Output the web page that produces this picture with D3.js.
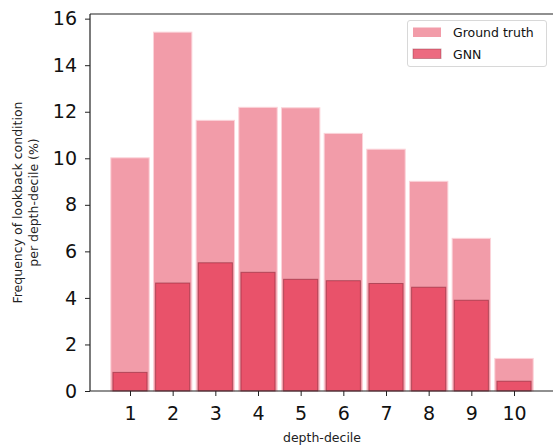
<!DOCTYPE html>
<html>
<head>
<meta charset="utf-8">
<script src="https://cdn.jsdelivr.net/npm/d3@7"></script>
<style>
  html, body { margin: 0; padding: 0; background: #fff; }
  svg { display: block; font-family: "DejaVu Sans", sans-serif; }
</style>
</head>
<body>
<svg id="chart" width="553" height="445"></svg>
<script>
const deciles = [1, 2, 3, 4, 5, 6, 7, 8, 9, 10];
const groundTruth = [10.02, 15.42, 11.63, 12.19, 12.17, 11.07, 10.39, 9.01, 6.56, 1.40];
const gnn = [0.80, 4.64, 5.51, 5.10, 4.80, 4.74, 4.62, 4.46, 3.90, 0.42];
const yTicks = [0, 2, 4, 6, 8, 10, 12, 14, 16];
const seriesNames = ["Ground truth", "GNN"];

(function () {
const svg = d3.select("#chart");
const mLeft = 90, mRight = 554, mTop = 14, mBottom = 391;

const x = d3.scaleLinear().domain([0.0625, 10.9375]).range([mLeft, mRight]);
const y = d3.scaleLinear().domain([0, 16.2]).range([mBottom, mTop]);
const step = x(2) - x(1);

const gtColor = "#f29ca9";
const gnnColor = "#e53955";

// Ground truth bars
svg.append("g").selectAll("rect").data(deciles).join("rect")
  .attr("x", (d) => x(d) - step * 0.45)
  .attr("width", step * 0.9)
  .attr("y", (d, i) => y(groundTruth[i]))
  .attr("height", (d, i) => y(0) - y(groundTruth[i]))
  .attr("fill", gtColor)
  .attr("stroke", "#fbd3d9")
  .attr("stroke-width", 1);

// GNN bars
svg.append("g").selectAll("rect").data(deciles).join("rect")
  .attr("x", (d) => x(d) - step * 0.4)
  .attr("width", step * 0.8)
  .attr("y", (d, i) => y(gnn[i]))
  .attr("height", (d, i) => y(0) - y(gnn[i]))
  .attr("fill", gnnColor)
  .attr("fill-opacity", 0.75)
  .attr("stroke", "#8a2a3a")
  .attr("stroke-opacity", 0.6)
  .attr("stroke-width", 1);

// Axes
const xAxis = d3.axisBottom(x).tickValues(deciles).tickSize(5).tickPadding(11).tickFormat(d3.format("d"));
const gx = svg.append("g").attr("transform", `translate(0,${mBottom})`).call(xAxis);
gx.select(".domain").remove();
gx.selectAll("text").attr("font-size", 19).attr("font-family", "DejaVu Sans").attr("fill", "#111");
gx.selectAll("line").attr("stroke", "#222");

const yAxis = d3.axisLeft(y).tickValues(yTicks).tickSize(5).tickPadding(8).tickFormat(d3.format("d"));
const gy = svg.append("g").attr("transform", `translate(${mLeft},0)`).call(yAxis);
gy.select(".domain").remove();
gy.selectAll("text").attr("font-size", 19).attr("font-family", "DejaVu Sans").attr("fill", "#111");
gy.selectAll("line").attr("stroke", "#222");

// Spines (right spine lies outside the visible area)
const spine = svg.append("g").attr("stroke", "#222").attr("stroke-width", 1.2).attr("fill", "none");
spine.append("line").attr("x1", mLeft).attr("x2", mLeft).attr("y1", mTop).attr("y2", mBottom);
spine.append("line").attr("x1", mLeft).attr("x2", mRight).attr("y1", mBottom).attr("y2", mBottom);
spine.append("line").attr("x1", mLeft).attr("x2", mRight).attr("y1", mTop).attr("y2", mTop);

// Axis labels
svg.append("text")
  .attr("x", (mLeft + mRight) / 2).attr("y", 442)
  .attr("text-anchor", "middle").attr("font-size", 12.5).attr("fill", "#222")
  .text("depth-decile");

const yl = svg.append("text")
  .attr("transform", `translate(22,${(mTop + mBottom) / 2}) rotate(-90)`)
  .attr("text-anchor", "middle").attr("font-size", 12.5).attr("fill", "#222");
yl.append("tspan").attr("x", 0).attr("y", 0).text("Frequency of lookback condition");
yl.append("tspan").attr("x", 0).attr("y", 16).text("per depth-decile (%)");

// Legend
const lg = svg.append("g");
lg.append("rect").attr("x", 407.5).attr("y", 20.5).attr("width", 139).attr("height", 46)
  .attr("rx", 2.5).attr("fill", "#fff").attr("fill-opacity", 0.8).attr("stroke", "#d8d8d8");
const legendColors = [[gtColor, 1], [gnnColor, 0.75]];
seriesNames.forEach((name, i) => {
  lg.append("rect").attr("x", 413).attr("y", 27.5 + i * 21.5).attr("width", 28).attr("height", 9.5)
    .attr("fill", legendColors[i][0]).attr("fill-opacity", legendColors[i][1])
    .attr("stroke", i === 1 ? "#8a2a3a" : "none").attr("stroke-opacity", 0.4);
  lg.append("text").attr("x", 453).attr("y", 37 + i * 21.5)
    .attr("font-size", 12.5).attr("fill", "#111").text(name);
});
})();
</script>
</body>
</html>
